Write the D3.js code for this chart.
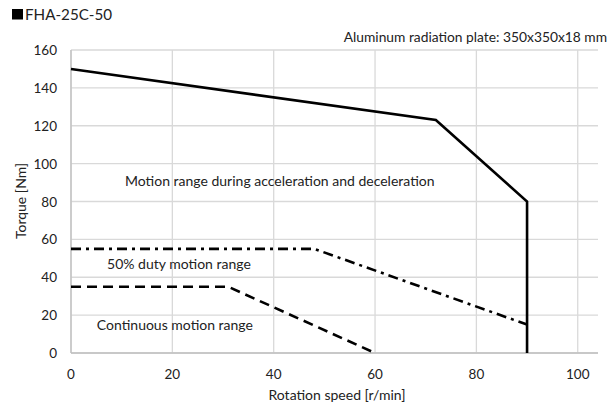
<!DOCTYPE html>
<html><head><meta charset="utf-8">
<script src="https://cdn.jsdelivr.net/npm/d3@7"></script>
<style>body{margin:0;background:#fff}svg{display:block;font-family:Lato,sans-serif}</style>
</head><body><svg id="c" width="611" height="410"></svg>
<script>
const xTicks=[0,20,40,60,80,100];
const yTicks=[0,20,40,60,80,100,120,140,160];
const accelX=[0,72,90,90];
const accelY=[150,123,80,0];
const dutyX=[0,48,90];
const dutyY=[55,55,15];
const contX=[0,31,60];
const contY=[35,35,0];
const title="FHA-25C-50";
const note="Aluminum radiation plate: 350x350x18 mm";
const xLabel="Rotation speed [r/min]";
const yLabel="Torque [Nm]";
const regionLabels=["Motion range during acceleration and deceleration","50% duty motion range","Continuous motion range"];
const regionPos=[[41.2,88.3],[21.3,44.4],[20.5,12.1]];

const svg=d3.select("#c");
const x=d3.scaleLinear().domain([0,104]).range([71,598]);
const y=d3.scaleLinear().domain([0,160]).range([353,50]);
const g=svg.append("g");
g.selectAll("line.h").data(yTicks).join("line").attr("x1",x(0)).attr("x2",x(104)).attr("y1",d=>y(d)).attr("y2",d=>y(d)).attr("stroke","#d9d9d9").attr("stroke-width",1.3);
g.selectAll("line.v").data(xTicks).join("line").attr("y1",y(0)).attr("y2",y(160)).attr("x1",d=>x(d)).attr("x2",d=>x(d)).attr("stroke","#d9d9d9").attr("stroke-width",1.3);
g.append("line").attr("x1",x(0)).attr("x2",x(104)).attr("y1",y(0)).attr("y2",y(0)).attr("stroke","#bfbfbf").attr("stroke-width",1.3);
g.append("line").attr("x1",x(0)).attr("x2",x(0)).attr("y1",y(0)).attr("y2",y(160)).attr("stroke","#bfbfbf").attr("stroke-width",1.3);

const fs=14, col="#222";
svg.selectAll("text.xt").data(xTicks).join("text").attr("x",d=>x(d)).attr("y",379).attr("text-anchor","middle").attr("font-size",13.5).attr("fill",col).text(d=>d);
svg.selectAll("text.yt").data(yTicks).join("text").attr("x",57).attr("y",d=>y(d)+5).attr("text-anchor","end").attr("font-size",13.5).attr("fill",col).text(d=>d);

const line=d3.line().x(d=>x(d[0])).y(d=>y(d[1]));
svg.append("path").attr("d",line(accelX.map((v,i)=>[v,accelY[i]]))).attr("fill","none").attr("stroke","#000").attr("stroke-width",2.6);
svg.append("path").attr("d",line(dutyX.map((v,i)=>[v,dutyY[i]]))).attr("fill","none").attr("stroke","#000").attr("stroke-width",2.6).attr("stroke-dasharray","10,5,3,5");
svg.append("path").attr("d",line(contX.map((v,i)=>[v,contY[i]]))).attr("fill","none").attr("stroke","#000").attr("stroke-width",2.6).attr("stroke-dasharray","10,6");

svg.append("rect").attr("x",12).attr("y",9).attr("width",11).attr("height",10.5).attr("fill","#000");
svg.append("text").attr("x",25).attr("y",19.5).attr("font-size",15.2).attr("fill",col).text(title);
svg.append("text").attr("x",607).attr("y",42).attr("text-anchor","end").attr("font-size",13.8).attr("fill",col).text(note);
svg.append("text").attr("x",337).attr("y",400).attr("text-anchor","middle").attr("font-size",fs).attr("fill",col).text(xLabel);
svg.append("text").attr("transform","translate(26,201) rotate(-90)").attr("text-anchor","middle").attr("font-size",fs).attr("fill",col).text(yLabel);
svg.selectAll("text.rl").data(regionLabels).join("text").attr("x",(d,i)=>x(regionPos[i][0])).attr("y",(d,i)=>y(regionPos[i][1])).attr("text-anchor","middle").attr("font-size",fs).attr("fill",col).text(d=>d);
</script></body></html>
